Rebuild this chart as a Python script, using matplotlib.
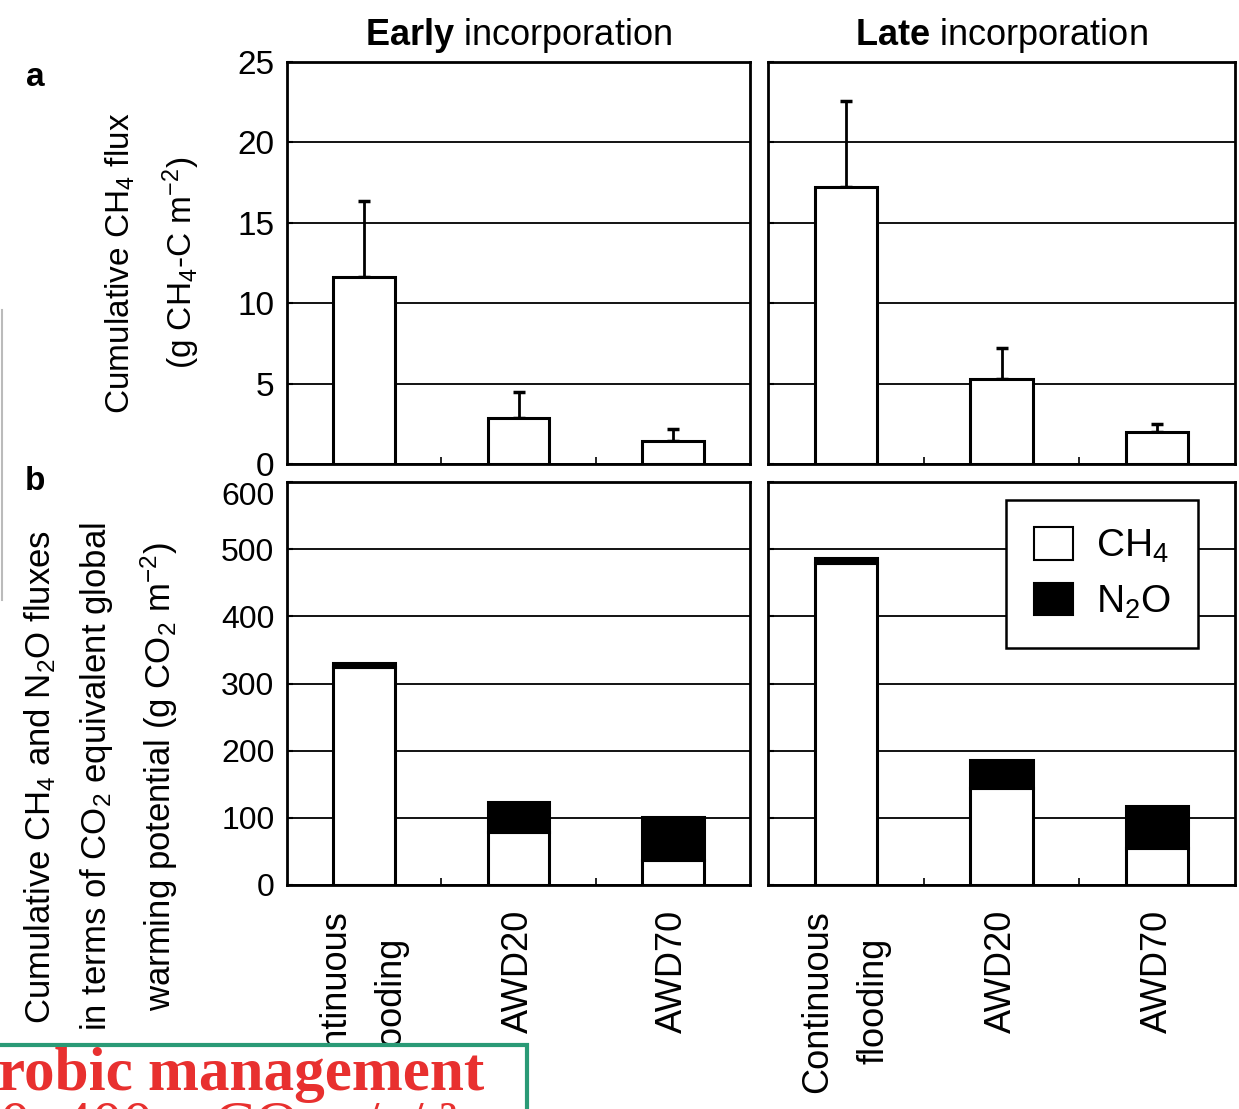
import matplotlib
matplotlib.use('Agg')
import matplotlib.pyplot as plt
from matplotlib.patches import Patch, Rectangle
from matplotlib.lines import Line2D
import numpy as np

plt.rcParams['font.family'] = ['Liberation Sans', 'DejaVu Sans']
plt.rcParams['mathtext.fontset'] = 'custom'
plt.rcParams['mathtext.rm'] = 'Liberation Sans'
plt.rcParams['mathtext.it'] = 'Liberation Sans:italic'
plt.rcParams['mathtext.bf'] = 'Liberation Sans:bold'

# data
treatments = ['Continuous\nflooding', 'AWD20', 'AWD70']
timing = ['Early', 'Late']

# panel a: cumulative CH4 flux (g CH4-C m-2), upper error bar
ch4_flux_early = [11.6, 2.85, 1.4]
ch4_err_early = [4.75, 1.65, 0.8]
ch4_flux_late = [17.2, 5.3, 2.0]
ch4_err_late = [5.4, 1.9, 0.5]

# panel b: GWP (g CO2 m-2), stacked CH4 + N2O
gwp_ch4_early = [325, 79, 37]
gwp_n2o_early = [5, 45, 64]
gwp_ch4_late = [480, 144, 55]
gwp_n2o_late = [7, 42, 63]

W, H = 1239, 1109
fig = plt.figure(figsize=(W / 100, H / 100), dpi=100)


def box(x0, y0, x1, y1):
    return [x0 / W, 1 - y1 / H, (x1 - x0) / W, (y1 - y0) / H]


ax_a = [fig.add_axes(box(287, 62, 750, 464)), fig.add_axes(box(768, 62, 1235, 464))]
ax_b = [fig.add_axes(box(287, 482, 750, 885)), fig.add_axes(box(768, 482, 1235, 885))]

x = np.arange(len(treatments))
bw = 0.4


def style(ax, ylim, step, fs, show_y):
    ax.set_xlim(-0.5, 2.5)
    ax.set_ylim(0, ylim)
    ax.set_yticks(np.arange(0, ylim + 1, step))
    ax.yaxis.grid(True, color='black', linewidth=1.3)
    ax.set_axisbelow(True)
    for s in ax.spines.values():
        s.set_linewidth(2)
    ax.tick_params(axis='y', direction='in', length=4, width=1.5, labelsize=fs, pad=9,
                   labelleft=show_y)
    ax.set_xticks([0.5, 1.5], minor=True)
    ax.tick_params(axis='x', which='minor', direction='in', length=5, width=1.2)


flux = [(ch4_flux_early, ch4_err_early), (ch4_flux_late, ch4_err_late)]
for i, ax in enumerate(ax_a):
    vals, err = flux[i]
    ax.bar(x, vals, width=bw, color='white', edgecolor='black', linewidth=2.2, zorder=3)
    ax.errorbar(x, vals, yerr=[np.zeros(len(err)), err], fmt='none', ecolor='black',
                elinewidth=2, capsize=4, capthick=2.5, zorder=2)
    style(ax, 25, 5, 24, i == 0)
    ax.set_xticks(x)
    ax.tick_params(axis='x', which='major', length=0, labelbottom=False)
    ax.set_title(r'$\bf{%s}$ incorporation' % timing[i], fontsize=26, pad=12)

gwp = [(gwp_ch4_early, gwp_n2o_early), (gwp_ch4_late, gwp_n2o_late)]
for i, ax in enumerate(ax_b):
    c, n = gwp[i]
    ax.bar(x, c, width=bw, color='white', edgecolor='black', linewidth=2.2, zorder=3,
           label='CH$_4$')
    ax.bar(x, n, bottom=c, width=bw, color='black', edgecolor='black', linewidth=2.2,
           zorder=3, label='N$_2$O')
    style(ax, 600, 100, 23, i == 0)
    ax.set_xticks(x)
    ax.set_xticklabels(treatments, rotation=90, fontsize=26, va='top', ha='center',
                       multialignment='center', linespacing=1.8)
    ax.tick_params(axis='x', which='major', length=0, pad=18)

# top tick label of panel b sits a little below the frame, as in the original
yt = ax_b[0].get_yticks()
ax_b[0].set_yticks(yt)
ax_b[0].set_yticklabels([f'{v:.0f}' for v in yt[:-1]] + [''])
ax_b[0].annotate(f'{yt[-1]:.0f}', xy=(0, yt[-1]), xycoords=('axes fraction', 'data'),
                 xytext=(-9, -11), textcoords='offset points', ha='right', va='center',
                 fontsize=23)

handles = [Patch(facecolor='white', edgecolor='black', linewidth=1.5),
           Patch(facecolor='black', edgecolor='black', linewidth=1.5)]
leg = ax_b[1].legend(handles, ['CH$_4$', 'N$_2$O'], loc='upper right',
                     bbox_to_anchor=(0.921, 0.955), borderaxespad=0, fontsize=28,
                     fancybox=False, framealpha=1, edgecolor='black',
                     handlelength=1.0, handleheight=0.9, handletextpad=0.6,
                     labelspacing=0.45, borderpad=0.7)
leg.get_frame().set_linewidth(1.8)

# panel letters and y labels
fig.text(35 / W, 1 - 78 / H, 'a', fontsize=24, fontweight='bold', ha='center', va='center')
fig.text(35 / W, 1 - 482 / H, 'b', fontsize=24, fontweight='bold', ha='center', va='center')
fig.text(153 / W, 1 - 263 / H, 'Cumulative CH$_4$ flux\n(g CH$_4$-C m$^{-2}$)',
         rotation=90, fontsize=24, ha='center', va='center', multialignment='center',
         linespacing=1.75)
fig.text(101 / W, 1 - 777 / H,
         'Cumulative CH$_4$ and N$_2$O fluxes\nin terms of CO$_2$ equivalent global\n'
         'warming potential (g CO$_2$ m$^{-2}$)',
         rotation=90, fontsize=25, ha='center', va='center', multialignment='center',
         linespacing=1.72)

# faint edge line at the far left
fig.add_artist(Line2D([1.5 / W, 1.5 / W], [1 - 310 / H, 1 - 600 / H], color='#bbbbbb',
                      linewidth=1.5))

# overlapping caption box at the bottom left
cap = Rectangle((-0.01, -0.05), 527 / W + 0.01, (1109 - 1045) / H + 0.05,
                transform=fig.transFigure, facecolor='white',
                edgecolor='#2a9a76', linewidth=3, zorder=10)
fig.add_artist(cap)
serif = ['Liberation Serif', 'DejaVu Serif']
fig.text(-2 / W, 1 - 1090 / H, 'robic management', fontsize=44, fontweight='bold',
         family=serif, color='#e8302f', ha='left', va='baseline', zorder=11)
t2 = fig.text(0 / W, 1 - 1143 / H, '0\u2013400 g CO\u2082 e/a/ \u00b2', fontsize=44,
              family=serif, color='#e8302f', ha='left', va='baseline', zorder=11)
t2.set_clip_path(cap)

fig.savefig('out.png', dpi=100)
